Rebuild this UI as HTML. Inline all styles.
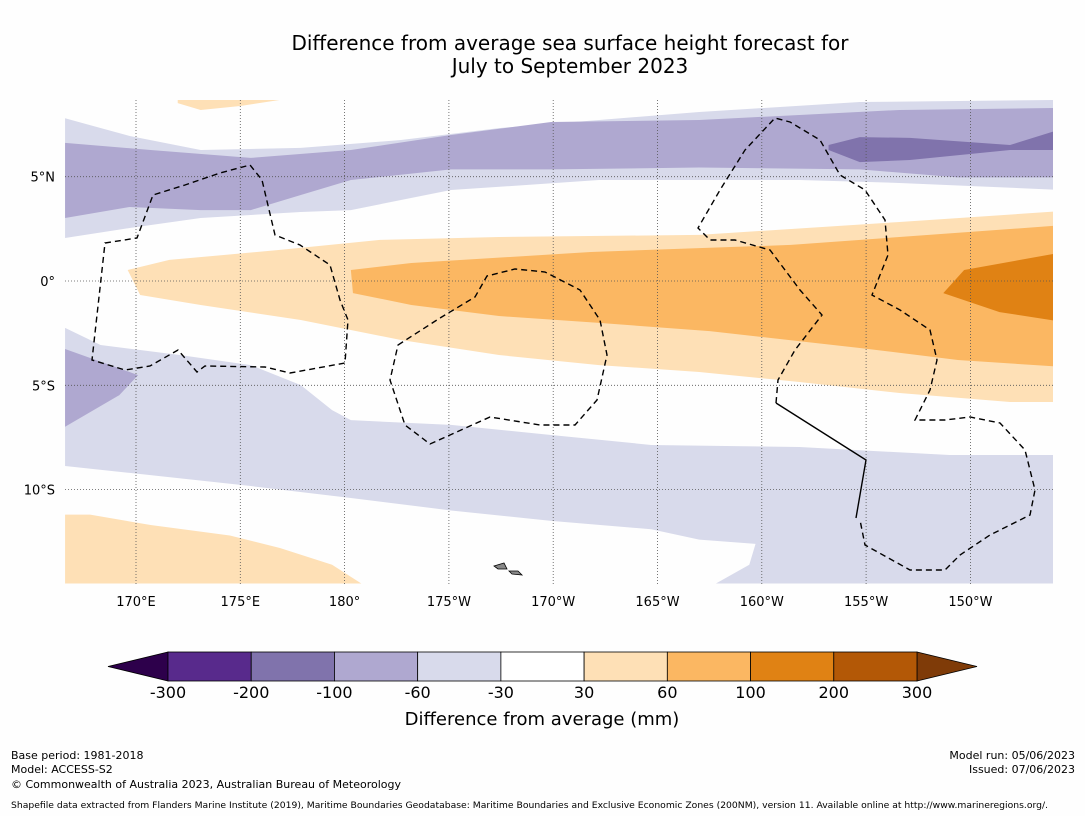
<!DOCTYPE html>
<html><head><meta charset="utf-8"><style>
body{margin:0;background:#fff;width:1085px;height:816px;overflow:hidden;font-family:"DejaVu Sans",sans-serif}
</style></head><body>
<svg id="chart" width="1085" height="816" xmlns="http://www.w3.org/2000/svg" font-family="DejaVu Sans, sans-serif">
<rect width="1085" height="816" fill="#fefefe"/>
<text x="570" y="50" text-anchor="middle" font-size="20">Difference from average sea surface height forecast for</text>
<text x="570" y="73" text-anchor="middle" font-size="20">July to September 2023</text>
<defs><clipPath id="mapclip"><rect x="65" y="100" width="988" height="484"/></clipPath></defs>
<g id="map" clip-path="url(#mapclip)"></g>
<g id="grid"></g>
<g id="eez" clip-path="url(#mapclip)" fill="none" stroke="#000" stroke-width="1.4">
<path stroke-dasharray="6,4" d="M105,243 L137,238 L153,195 L185,185 L220,173 L250,165 L262,180 L275,235 L300,245 L330,265 L340,300 L348,320 L345,363 L290,373 L265,367 L205,366 L197,372 L178,350 L150,366 L125,370 L92,360 Z"/>
<path stroke-dasharray="6,4" d="M398,345 L440,318 L475,297 L487,276 L515,269 L545,272 L580,290 L600,320 L607,355 L597,400 L575,425 L540,425 L490,417 L430,444 L405,425 L390,380 Z"/>
<path stroke-dasharray="6,4" d="M776,403 L778,380 L795,350 L822,315 L800,290 L770,250 L735,240 L710,240 L698,228 L720,190 L745,150 L775,118 L790,122 L820,140 L840,175 L865,190 L885,220 L888,255 L872,295 L900,310 L930,330 L937,360 L930,390 L915,420 L945,420 L970,417 L1000,423 L1025,450 L1035,490 L1030,515 L990,535 L960,555 L945,570 L910,570 L865,545 L860,520"/>
<path d="M776,403 L866,460 L856,518"/>
</g>
<g id="islands" fill="#888" stroke="#000" stroke-width="0.8">
<path d="M494,566 L504,563 L507,569 L498,569 Z"/><path d="M509,571 L518,571 L522,575 L512,574 Z"/>
</g>
<g id="axes" font-size="13"></g>
<g id="cbar"></g>
<text x="542" y="725" text-anchor="middle" font-size="18">Difference from average (mm)</text>
<g font-size="11">
<text x="11" y="759">Base period: 1981-2018</text>
<text x="11" y="773">Model: ACCESS-S2</text>
<text x="11" y="788">© Commonwealth of Australia 2023, Australian Bureau of Meteorology</text>
<text x="1075" y="759" text-anchor="end">Model run: 05/06/2023</text>
<text x="1075" y="773" text-anchor="end">Issued: 07/06/2023</text>
<text x="11" y="808" font-size="9" textLength="1037" lengthAdjust="spacingAndGlyphs">Shapefile data extracted from Flanders Marine Institute (2019), Maritime Boundaries Geodatabase: Maritime Boundaries and Exclusive Economic Zones (200NM), version 11. Available online at http://www.marineregions.org/.</text>
</g>
</svg>
<script>
const lonTicks=[170,175,180,185,190,195,200,205,210];
const lonLabels=["170°E","175°E","180°","175°W","170°W","165°W","160°W","155°W","150°W"];
const latTicks=[5,0,-5,-10];
const latLabels=["5°N","0°","5°S","10°S"];
const levels=[-300,-200,-100,-60,-30,30,60,100,200,300];
const levelColors=["#582a8c","#8073ac","#afa8d0","#d8daeb","#ffffff","#fee0b6","#fbb762","#e08214","#b35806"];
const contourColors=["#d8daeb","#afa8d0","#8073ac","#d8daeb","#afa8d0","#fee0b6","#fee0b6","#fee0b6","#fbb762","#e08214"];
// contour polygons as [lon, lat] pairs
const contourLons=[
 [166.6,169.7,173.1,177.9,182.7,187.4,192.2,197.0,204.7,214.5,214.5,206.6,201.8,192.2,185.1,180.3,177.9,173.1,169.7,166.6],
 [166.6,170.7,175.5,180.3,185.1,189.9,197.0,201.8,206.6,214.5,214.5,209.4,204.7,197.0,189.9,185.1,180.3,177.9,175.5,173.1,169.7,166.6],
 [203.2,204.7,207.1,211.9,214.5,214.5,211.9,207.1,204.7,203.2],
 [166.6,168.3,172.1,175.5,177.9,179.4,180.3,185.1,189.9,194.7,201.8,209.0,214.5,214.5,197.8,199.4,199.7,197.0,194.7,189.9,185.1,180.3,175.5,169.7,166.6],
 [166.6,170.1,169.2,166.6],
 [166.6,167.8,170.7,174.5,176.9,179.4,180.8,166.6],
 [172.0,176.9,175.0,173.1,172.0],
 [169.6,171.6,176.9,181.7,187.4,197.0,206.6,214.5,214.5,211.9,206.6,201.8,197.0,192.2,187.4,182.7,177.9,173.1,170.2],
 [180.3,183.2,191.8,201.4,214.5,214.5,209.4,204.7,197.5,192.2,187.4,183.2,180.4],
 [209.7,214.5,214.5,211.4,208.7]
];
const contourLats=[
 [7.8,6.95,6.28,6.38,6.76,7.33,7.72,8.1,8.58,8.68,4.36,4.7,4.84,4.84,4.36,3.4,3.31,3.02,2.54,2.06],
 [6.62,6.28,5.9,6.28,7.0,7.62,7.72,7.96,8.2,8.3,4.97,4.97,5.35,5.44,5.35,5.35,4.84,4.12,3.4,3.4,3.55,3.02],
 [6.52,6.9,6.86,6.52,7.33,6.28,6.28,5.8,5.7,6.28],
 [-2.25,-3.07,-3.55,-4.03,-4.99,-6.19,-6.67,-6.9,-7.38,-7.86,-7.96,-8.34,-8.34,-14.5,-14.5,-13.6,-12.6,-12.4,-11.9,-11.5,-11.0,-10.4,-9.83,-9.2,-8.87],
 [-3.26,-4.51,-5.47,-6.99],
 [-11.2,-11.2,-11.7,-12.2,-12.8,-13.6,-14.5,-14.5],
 [8.68,8.68,8.39,8.2,8.53],
 [0.53,1.01,1.49,1.97,2.11,2.21,2.83,3.36,-5.8,-5.8,-5.37,-4.84,-4.36,-4.03,-3.55,-2.83,-1.87,-1.15,-0.67],
 [0.53,0.86,1.39,1.73,2.68,-4.12,-3.79,-3.21,-2.4,-2.01,-1.68,-1.15,-0.58],
 [0.53,1.39,-1.97,-1.49,-0.58]
];
const NS="http://www.w3.org/2000/svg";
function xs(lon){return 136+(lon-170)*20.86;}
function ys(lat){return 281-lat*20.86;}
const map=document.getElementById('map');
contourLons.forEach(function(lons,i){
 const p=document.createElementNS(NS,'polygon');
 p.setAttribute('points',lons.map(function(l,j){return xs(l)+','+ys(contourLats[i][j]);}).join(' '));
 p.setAttribute('fill',contourColors[i]);
 
 
 map.appendChild(p);
});
const grid=document.getElementById('grid'),axes=document.getElementById('axes');
lonTicks.forEach(function(l,i){
 const ln=document.createElementNS(NS,'line');
 ln.setAttribute('x1',xs(l));ln.setAttribute('x2',xs(l));ln.setAttribute('y1',100);ln.setAttribute('y2',584);
 ln.setAttribute('stroke','#555');ln.setAttribute('stroke-width','0.8');ln.setAttribute('stroke-dasharray','1,2');
 
 
 grid.appendChild(ln);
 const t=document.createElementNS(NS,'text');
 t.setAttribute('x',xs(l));t.setAttribute('y',606);t.setAttribute('text-anchor','middle');t.textContent=lonLabels[i];
 
 
 axes.appendChild(t);
});
latTicks.forEach(function(l,i){
 const ln=document.createElementNS(NS,'line');
 ln.setAttribute('x1',65);ln.setAttribute('x2',1053);ln.setAttribute('y1',ys(l));ln.setAttribute('y2',ys(l));
 ln.setAttribute('stroke','#555');ln.setAttribute('stroke-width','0.8');ln.setAttribute('stroke-dasharray','1,2');
 
 
 grid.appendChild(ln);
 const t=document.createElementNS(NS,'text');
 t.setAttribute('x',55);t.setAttribute('y',ys(l)+5);t.setAttribute('text-anchor','end');t.textContent=latLabels[i];
 
 
 axes.appendChild(t);
});
const cb=document.getElementById('cbar');
const cx0=168,cw=(917-168)/levelColors.length,cy=652,ch=29;
function add(tag,attrs,name){const e=document.createElementNS(NS,tag);for(const k in attrs)e.setAttribute(k,attrs[k]);
 
 
 cb.appendChild(e);return e;}
add('polygon',{points:'108,666.5 168,652 168,681',fill:'#2d004b',stroke:'#000','stroke-width':0.8},'colorbar-low-extension');
add('polygon',{points:'977,666.5 917,652 917,681',fill:'#7f3b08',stroke:'#000','stroke-width':0.8},'colorbar-high-extension');
levelColors.forEach(function(c,i){
 add('rect',{x:cx0+i*cw,y:cy,width:cw,height:ch,fill:c,stroke:'#000','stroke-width':0.8},'colorbar-segment');
});
levels.forEach(function(v,i){
 const t=add('text',{x:cx0+i*cw,y:698,'text-anchor':'middle','font-size':16},'colorbar-tick-label');
 t.textContent=v;
});
</script>
</body></html>
